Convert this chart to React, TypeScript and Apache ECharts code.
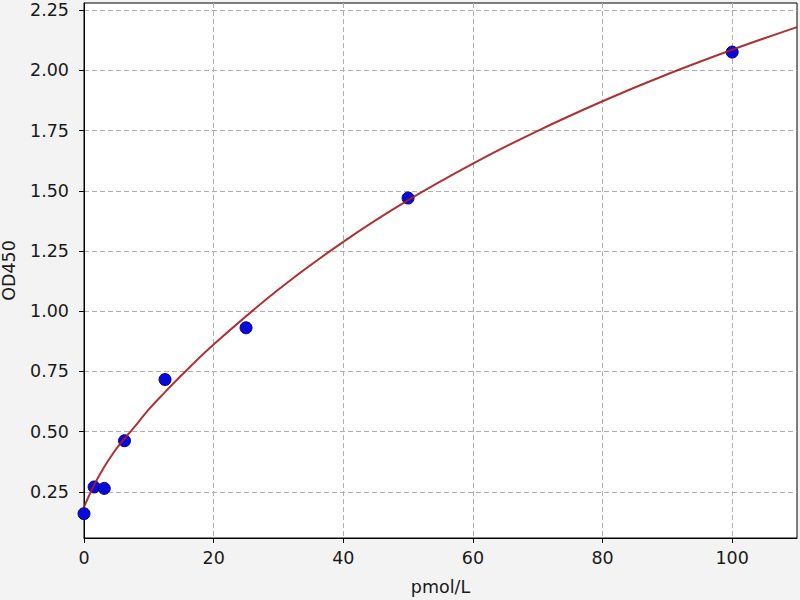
import { useEffect, useRef } from 'react';
import * as echarts from 'echarts';

// measured standards (pmol/L -> OD450)
const stdConc = [0, 1.5625, 3.125, 6.25, 12.5, 25, 50, 100];
const stdOd = [0.159, 0.27, 0.264, 0.462, 0.716, 0.931, 1.47, 2.076];

// fitted curve
const curveConc = [0, 1.5, 3, 4.5, 6, 7.5, 10, 12.5, 15, 20, 30, 40, 50, 60, 70, 80, 90, 100, 110];
const curveOd = [
  0.186, 0.275, 0.348, 0.41, 0.463, 0.51, 0.592, 0.664, 0.733, 0.862, 1.09, 1.288, 1.461, 1.613,
  1.749, 1.872, 1.984, 2.086, 2.18,
];

const xTicks = [0, 20, 40, 60, 80, 100];
const yTicks = [0.25, 0.5, 0.75, 1.0, 1.25, 1.5, 1.75, 2.0, 2.25];

const font = 'DejaVu Sans';
const textColor = '#1a1a1a';

export default function App() {
  const ref = useRef<HTMLDivElement>(null);

  useEffect(() => {
    if (!ref.current) return;
    const chart = echarts.init(ref.current, undefined, { renderer: 'svg' });

    const gridLine = { show: true, lineStyle: { color: '#b0b0b0', type: [5, 3] as number[], width: 1 } };

    chart.setOption({
      animation: false,
      backgroundColor: '#f3f3f3',
      textStyle: { fontFamily: font },
      grid: {
        left: 84,
        right: 3,
        top: 3,
        bottom: 62,
        containLabel: false,
        outerBoundsMode: 'none',
        show: true,
        backgroundColor: '#fff',
        borderColor: '#000',
        borderWidth: 1,
      },
      xAxis: {
        type: 'value',
        min: 0,
        max: 110,
        name: 'pmol/L',
        nameLocation: 'middle',
        nameGap: 40,
        nameTextStyle: { fontSize: 17.5, color: textColor, fontFamily: font },
        axisLine: { show: true, lineStyle: { color: '#000', width: 1 } },
        axisTick: { show: true, inside: false, length: 5, lineStyle: { color: '#000' }, customValues: xTicks },
        axisLabel: { fontSize: 17.5, color: textColor, margin: 11, fontFamily: font, customValues: xTicks },
        splitLine: gridLine,
      },
      yAxis: {
        type: 'value',
        min: 0.058,
        max: 2.28,
        name: 'OD450',
        nameLocation: 'middle',
        nameGap: 66,
        nameTextStyle: { fontSize: 17.5, color: textColor, fontFamily: font },
        axisLine: { show: true, lineStyle: { color: '#000', width: 1 } },
        axisTick: { show: true, inside: false, length: 5, lineStyle: { color: '#000' }, customValues: yTicks },
        axisLabel: {
          fontSize: 17.5,
          color: textColor,
          margin: 15,
          fontFamily: font,
          customValues: yTicks,
          formatter: (v: number) => v.toFixed(2),
        },
        splitLine: gridLine,
      },
      series: [
        {
          type: 'scatter',
          data: stdConc.map((c, i) => [c, stdOd[i]]),
          symbolSize: 12,
          itemStyle: { color: '#0a0ad8', borderColor: '#00008b', borderWidth: 1, opacity: 1 },
          z: 2,
        },
        {
          type: 'line',
          data: curveConc.map((c, i) => [c, curveOd[i]]),
          smooth: 0.4,
          showSymbol: false,
          lineStyle: { color: '#a51c1c', width: 2, opacity: 0.9 },
          z: 3,
        },
      ],
    });

    return () => chart.dispose();
  }, []);

  return (
    <div
      ref={ref}
      style={{ position: 'fixed', left: 0, top: 0, width: 800, height: 600 }}
    />
  );
}
